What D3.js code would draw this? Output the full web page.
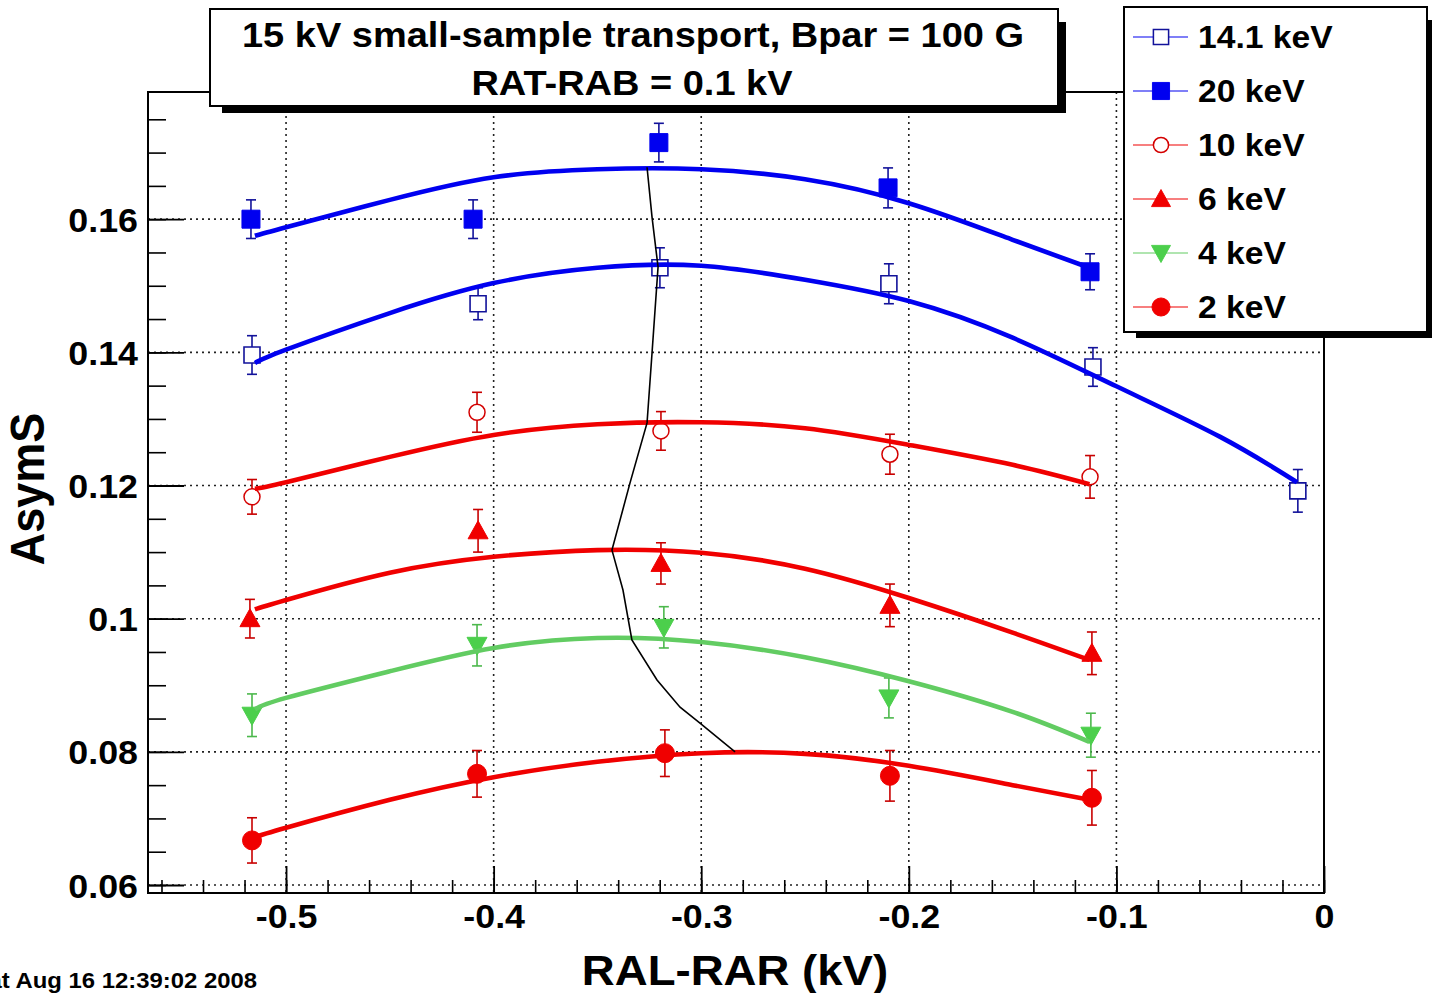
<!DOCTYPE html>
<html>
<head>
<meta charset="utf-8">
<script src="https://cdn.jsdelivr.net/npm/d3@7"></script>
<style>
  body { margin: 0; background: #fff; }
  text { font-family: "Liberation Sans", Arial, sans-serif; font-weight: bold; }
</style>
</head>
<body>
<div id="chart"></div>
<script>
// ticks
var xTicks = [-0.5, -0.4, -0.3, -0.2, -0.1, 0];
var xTickLabels = ["-0.5", "-0.4", "-0.3", "-0.2", "-0.1", "0"];
var yTicks = [0.06, 0.08, 0.10, 0.12, 0.14, 0.16];
var yTickLabels = ["0.06", "0.08", "0.1", "0.12", "0.14", "0.16"];

// measured points (x, AsymS, error)
var x141 = [-0.5164, -0.4075, -0.3199, -0.2096, -0.1113, -0.0126];
var y141 = [0.1396, 0.1473, 0.1527, 0.1503, 0.1378, 0.1192];
var e141 = [0.0029, 0.0024, 0.0030, 0.0030, 0.0029, 0.0032];

var x20 = [-0.5169, -0.4099, -0.3204, -0.2100, -0.1127];
var y20 = [0.1600, 0.1600, 0.1715, 0.1647, 0.1521];
var e20 = [0.0029, 0.0029, 0.0029, 0.0030, 0.0027];

var x10 = [-0.5164, -0.4080, -0.3194, -0.2091, -0.1127];
var y10 = [0.1183, 0.1310, 0.1282, 0.1247, 0.1213];
var e10 = [0.0026, 0.0030, 0.0029, 0.0030, 0.0032];

var x6 = [-0.5174, -0.4075, -0.3194, -0.2091, -0.1118];
var y6 = [0.1000, 0.1132, 0.1083, 0.1020, 0.0948];
var e6 = [0.0029, 0.0032, 0.0031, 0.0032, 0.0032];

var x4 = [-0.5164, -0.4080, -0.3180, -0.2096, -0.1123];
var y4 = [0.0855, 0.0960, 0.0987, 0.0881, 0.0825];
var e4 = [0.0032, 0.0031, 0.0031, 0.0030, 0.0033];

var x2 = [-0.5164, -0.4080, -0.3175, -0.2091, -0.1118];
var y2 = [0.0667, 0.0767, 0.0798, 0.0764, 0.0731];
var e2 = [0.0034, 0.0035, 0.0035, 0.0038, 0.0041];

// fit curves
var fitX = [-0.515, -0.50, -0.45, -0.40, -0.35, -0.30, -0.25, -0.20, -0.15, -0.113];
var fitX141 = [-0.515, -0.50, -0.45, -0.40, -0.35, -0.30, -0.25, -0.20, -0.15, -0.10, -0.05, -0.013];
var fit141 = [0.1384, 0.1404, 0.1459, 0.1504, 0.1527, 0.1530, 0.1509, 0.1477, 0.1422, 0.1349, 0.1273, 0.1205];
var fit20 = [0.1575, 0.1588, 0.1629, 0.1663, 0.1675, 0.1675, 0.1660, 0.1624, 0.1569, 0.1527];
var fit10 = [0.1195, 0.1205, 0.1243, 0.1276, 0.1292, 0.1295, 0.1286, 0.1261, 0.1231, 0.1202];
var fit6 = [0.1014, 0.1028, 0.1069, 0.1093, 0.1103, 0.1099, 0.1075, 0.1031, 0.0979, 0.0938];
var fit4 = [0.0864, 0.0881, 0.0921, 0.0956, 0.0971, 0.0965, 0.0942, 0.0906, 0.0860, 0.0815];
var fit2 = [0.0672, 0.0686, 0.0728, 0.0762, 0.0785, 0.0798, 0.0797, 0.0779, 0.0750, 0.0728];

// thin black line through the maxima
var peakX = [-0.3261, -0.3237, -0.3208, -0.3237, -0.3261, -0.3343, -0.3430, -0.3377, -0.3334, -0.3213, -0.3102, -0.3006, -0.2837];
var peakY = [0.1678, 0.1603, 0.1528, 0.1399, 0.1294, 0.1204, 0.1103, 0.1043, 0.0968, 0.0908, 0.0867, 0.0843, 0.0800];

var seriesNames = ["14.1 keV", "20 keV", "10 keV", "6 keV", "4 keV", "2 keV"];

var width = 1441, height = 993;
var padL = 148, padR = 1324, padT = 92, padB = 893;
var stretchK = 1.085;

var svg = d3.select("#chart").append("svg")
    .attr("width", width).attr("height", height)
    .style("background", "#fff");

var xScale = d3.scaleLinear().domain([-0.5665, 0]).range([padL, padR]);
var yScale = d3.scaleLinear().domain([0.0588, 0.1791]).range([padB, padT]);

// text is a bit wider than the font in the picture
function stretch(sel, k) {
    sel.each(function () {
        var w = this.getComputedTextLength();
        d3.select(this).attr("textLength", w * (k || stretchK)).attr("lengthAdjust", "spacingAndGlyphs");
    });
}

// grid
var grid = svg.append("g").attr("stroke", "#222").attr("stroke-width", 1.6).attr("stroke-dasharray", "2,4");
xTicks.slice(0, 5).forEach(function (v) {
    grid.append("line").attr("x1", xScale(v)).attr("x2", xScale(v)).attr("y1", padT).attr("y2", padB);
});
yTicks.forEach(function (v) {
    grid.append("line").attr("x1", padL).attr("x2", padR).attr("y1", yScale(v)).attr("y2", yScale(v));
});

// axes: ROOT style ticks inside the frame
var xAxis = d3.axisBottom(xScale)
    .tickValues(d3.range(-0.56, 0.001, 0.02))
    .tickSize(-13).tickFormat("");
svg.append("g").attr("transform", "translate(0," + padB + ")").call(xAxis)
    .call(function (g) {
        g.select(".domain").remove();
        g.selectAll("line").attr("stroke", "#000").attr("stroke-width", 1.6);
    });
svg.append("g").attr("transform", "translate(0," + padB + ")")
    .call(d3.axisBottom(xScale).tickValues(xTicks).tickSize(-27)
        .tickFormat(function (d, i) { return xTickLabels[i]; }))
    .call(function (g) {
        g.select(".domain").remove();
        g.selectAll("line").attr("stroke", "#000").attr("stroke-width", 1.8);
        g.selectAll("text").attr("fill", "#000").attr("font-size", 33).attr("y", 35).attr("dy", 0)
            .call(stretch);
    });

var yAxis = d3.axisLeft(yScale)
    .tickValues(d3.range(0.06, 0.1781, 0.005))
    .tickSize(-18).tickFormat("");
svg.append("g").attr("transform", "translate(" + padL + ",0)").call(yAxis)
    .call(function (g) {
        g.select(".domain").remove();
        g.selectAll("line").attr("stroke", "#000").attr("stroke-width", 1.6);
    });
svg.append("g").attr("transform", "translate(" + padL + ",0)")
    .call(d3.axisLeft(yScale).tickValues(yTicks).tickSize(-36)
        .tickFormat(function (d, i) { return yTickLabels[i]; }))
    .call(function (g) {
        g.select(".domain").remove();
        g.selectAll("line").attr("stroke", "#000").attr("stroke-width", 1.8);
        g.selectAll("text").attr("fill", "#000").attr("font-size", 33).attr("x", -10).attr("dy", 12)
            .call(stretch);
    });

// frame
svg.append("rect").attr("x", padL).attr("y", padT)
    .attr("width", padR - padL).attr("height", padB - padT)
    .attr("fill", "none").attr("stroke", "#000").attr("stroke-width", 2);

// marker shapes
function markerPath(kind) {
    if (kind === "square") return "M-9,-9H9V9H-9Z";
    if (kind === "osquare") return "M-8,-8H8V8H-8Z";
    if (kind === "up") return "M-10,8L10,8L0,-10Z";
    if (kind === "down") return "M-10,-8L10,-8L0,10Z";
    return null;
}

var styles = [
    { xs: x141, ys: y141, es: e141, fx: fitX141, fy: fit141, kind: "osquare", open: true, mark: "#12129a", err: "#12129a", line: "#0000f0" },
    { xs: x20, ys: y20, es: e20, fx: fitX, fy: fit20, kind: "square", open: false, mark: "#0000f0", err: "#12129a", line: "#0000f0" },
    { xs: x10, ys: y10, es: e10, fx: fitX, fy: fit10, kind: "ocircle", open: true, mark: "#d40000", err: "#c80000", line: "#f00000" },
    { xs: x6, ys: y6, es: e6, fx: fitX, fy: fit6, kind: "up", open: false, mark: "#f00000", err: "#c80000", line: "#f00000" },
    { xs: x4, ys: y4, es: e4, fx: fitX, fy: fit4, kind: "down", open: false, mark: "#4ccf4c", err: "#4cb84c", line: "#62cc62" },
    { xs: x2, ys: y2, es: e2, fx: fitX, fy: fit2, kind: "circle", open: false, mark: "#f00000", err: "#c80000", line: "#f00000" }
];

function drawMarker(g, s, cx, cy, scale) {
    scale = scale || 1;
    if (s.kind === "circle" || s.kind === "ocircle") {
        g.append("circle").attr("cx", cx).attr("cy", cy)
            .attr("r", (s.open ? 8 : 9.5) * scale)
            .attr("fill", s.open ? "#fff" : s.mark)
            .attr("stroke", s.mark).attr("stroke-width", s.open ? 1.5 : 1);
    } else {
        g.append("path").attr("d", markerPath(s.kind))
            .attr("transform", "translate(" + cx + "," + cy + ") scale(" + scale + ")")
            .attr("fill", s.open ? "#fff" : s.mark)
            .attr("stroke", s.mark).attr("stroke-width", s.open ? 1.6 : 1);
    }
}

var pts = svg.append("g");
styles.forEach(function (s) {
    s.xs.forEach(function (xv, i) {
        var cx = xScale(xv), y0 = yScale(s.ys[i] - s.es[i]), y1 = yScale(s.ys[i] + s.es[i]);
        var eb = pts.append("g").attr("stroke", s.err).attr("stroke-width", 1.6);
        eb.append("line").attr("x1", cx).attr("x2", cx).attr("y1", y0).attr("y2", y1);
        eb.append("line").attr("x1", cx - 5).attr("x2", cx + 5).attr("y1", y0).attr("y2", y0);
        eb.append("line").attr("x1", cx - 5).attr("x2", cx + 5).attr("y1", y1).attr("y2", y1);
        drawMarker(pts, s, cx, yScale(s.ys[i]));
    });
});

// fit lines
var line = d3.line()
    .x(function (d) { return xScale(d[0]); })
    .y(function (d) { return yScale(d[1]); })
    .curve(d3.curveNatural);
styles.forEach(function (s) {
    svg.append("path")
        .datum(s.fx.map(function (v, i) { return [v, s.fy[i]]; }))
        .attr("d", line)
        .attr("fill", "none").attr("stroke", s.line).attr("stroke-width", 4.6);
});

svg.append("path")
    .datum(peakX.map(function (v, i) { return [v, peakY[i]]; }))
    .attr("d", d3.line().x(function (d) { return xScale(d[0]); }).y(function (d) { return yScale(d[1]); }))
    .attr("fill", "none").attr("stroke", "#000").attr("stroke-width", 1.6);

// pave with shadow
function pave(x, y, w, h, dx, dy) {
    svg.append("rect").attr("x", x + 12).attr("y", y + 13)
        .attr("width", w - 12 + dx).attr("height", h - 13 + dy).attr("fill", "#000");
    svg.append("rect").attr("x", x).attr("y", y).attr("width", w).attr("height", h)
        .attr("fill", "#fff").attr("stroke", "#000").attr("stroke-width", 2);
}

// title
pave(210, 9, 848, 97, 8, 7);
svg.append("text").attr("x", 633).attr("y", 47).attr("text-anchor", "middle")
    .attr("font-size", 35).text("15 kV small-sample transport, Bpar = 100 G").call(stretch);
svg.append("text").attr("x", 632).attr("y", 95).attr("text-anchor", "middle")
    .attr("font-size", 35).text("RAT-RAB = 0.1 kV").call(stretch);

// legend
pave(1124, 7, 303, 325, 5, 6);
styles.forEach(function (s, i) {
    var cy = 37 + i * 54;
    svg.append("line").attr("x1", 1133).attr("x2", 1188).attr("y1", cy).attr("y2", cy)
        .attr("stroke", s.line).attr("stroke-width", 1.2);
    drawMarker(svg, s, 1161, cy, 0.95);
    svg.append("text").attr("x", 1198).attr("y", cy + 11)
        .attr("font-size", 31).text(seriesNames[i]).call(stretch);
});

// axis titles
svg.append("text").attr("text-anchor", "middle")
    .attr("transform", "translate(44,489) scale(" + stretchK + ",1) rotate(-90)")
    .attr("font-size", 45).text("AsymS");
svg.append("text").attr("x", 735).attr("y", 985).attr("text-anchor", "middle")
    .attr("font-size", 42).text("RAL-RAR (kV)").call(stretch);

// date stamp
svg.append("text").attr("x", 257).attr("y", 988).attr("text-anchor", "end")
    .attr("font-size", 22).text("Sat Aug 16 12:39:02 2008").call(stretch);
</script>
</body>
</html>
